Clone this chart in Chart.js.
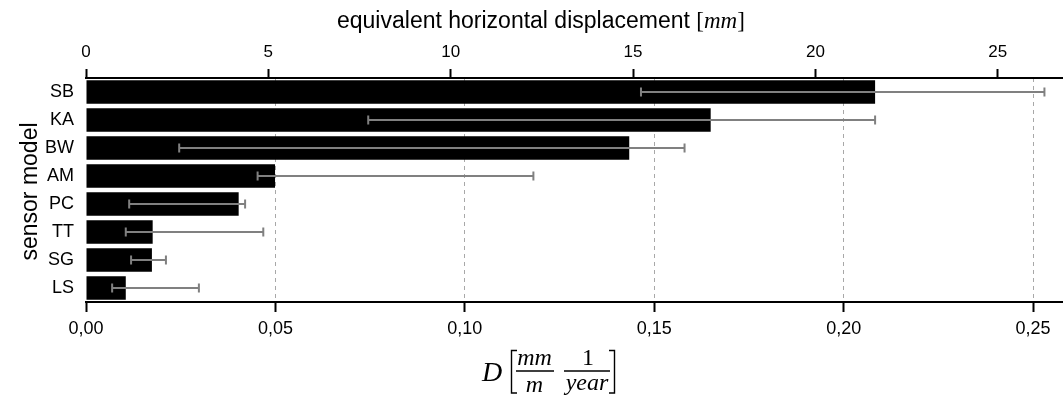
<!DOCTYPE html>
<html>
<head>
<meta charset="utf-8">
<script src="https://cdn.jsdelivr.net/npm/chart.js@4.4.0/dist/chart.umd.min.js"></script>
<style>
    html, body { margin: 0; padding: 0; background: #fff; }
</style>
</head>
<body>
<canvas id="graficoSensores" width="1063" height="395"></canvas>
<script>
// datos
const sensores = ['SB', 'KA', 'BW', 'AM', 'PC', 'TT', 'SG', 'LS'];
const valoresD = [0.2083, 0.1649, 0.1434, 0.0499, 0.0403, 0.0176, 0.0174, 0.0105];
const errorMin = [0.1465, 0.0745, 0.0246, 0.0453, 0.0114, 0.0105, 0.0119, 0.0069];
const errorMax = [0.2530, 0.2083, 0.1580, 0.1181, 0.0420, 0.0468, 0.0211, 0.0298];
const ticksD = [0, 0.05, 0.10, 0.15, 0.20, 0.25];
const etiquetasD = ['0,00', '0,05', '0,10', '0,15', '0,20', '0,25'];
const ticksMm = [0, 5, 10, 15, 20, 25];
const maxD = 0.2579;
const maxMm = 26.79;

const fuente = '"Liberation Sans", Arial, sans-serif';
const fuenteMath = '"Liberation Serif", "DejaVu Serif", serif';

// barras de error grises con remates
const barrasError = {
    id: 'barrasError',
    afterDatasetsDraw(chart) {
        const { ctx, scales: { x, y } } = chart;
        ctx.save();
        ctx.strokeStyle = '#808080';
        ctx.lineWidth = 2;
        sensores.forEach((s, i) => {
            const yy = y.getPixelForValue(i);
            const x1 = x.getPixelForValue(errorMin[i]);
            const x2 = x.getPixelForValue(errorMax[i]);
            ctx.beginPath();
            ctx.moveTo(x1, yy); ctx.lineTo(x2, yy);
            ctx.moveTo(x1, yy - 4.5); ctx.lineTo(x1, yy + 4.5);
            ctx.moveTo(x2, yy - 4.5); ctx.lineTo(x2, yy + 4.5);
            ctx.stroke();
        });
        ctx.restore();
    }
};

// titulos de los ejes (con notacion matematica)
const titulos = {
    id: 'titulos',
    afterDraw(chart) {
        const ctx = chart.ctx;
        ctx.save();
        ctx.fillStyle = '#000';
        ctx.textBaseline = 'alphabetic';

        // titulo superior
        ctx.textAlign = 'left';
        ctx.font = '23px ' + fuente;
        const t1 = 'equivalent horizontal displacement ';
        let xx = 337;
        ctx.fillText(t1, xx, 28);
        xx += ctx.measureText(t1).width;
        ctx.font = '23px ' + fuenteMath;
        ctx.fillText('[', xx, 28);
        xx += ctx.measureText('[').width;
        ctx.font = 'italic 23px ' + fuenteMath;
        ctx.fillText('mm', xx, 28);
        xx += ctx.measureText('mm').width;
        ctx.font = '23px ' + fuenteMath;
        ctx.fillText(']', xx, 28);

        // titulo eje y
        ctx.save();
        ctx.translate(37, 191.5);
        ctx.rotate(-Math.PI / 2);
        ctx.textAlign = 'center';
        ctx.font = '23px ' + fuente;
        ctx.fillText('sensor model', 0, 0);
        ctx.restore();

        // titulo inferior: D [mm/m 1/year]
        ctx.textAlign = 'left';
        ctx.font = 'italic 28px ' + fuenteMath;
        ctx.fillText('D', 482, 381);
        ctx.textAlign = 'center';
        ctx.font = 'italic 24px ' + fuenteMath;
        ctx.fillText('mm', 534.5, 365);
        ctx.fillText('m', 534.5, 391.5);
        ctx.fillText('year', 587, 390);
        ctx.font = '24px ' + fuenteMath;
        ctx.fillText('1', 588, 365);

        ctx.strokeStyle = '#000';
        ctx.lineWidth = 1.4;
        ctx.beginPath();
        ctx.moveTo(516, 371); ctx.lineTo(554, 371);
        ctx.moveTo(564, 371); ctx.lineTo(610, 371);
        // corchetes
        ctx.moveTo(517, 350.5); ctx.lineTo(511.5, 350.5); ctx.lineTo(511.5, 393); ctx.lineTo(517, 393);
        ctx.moveTo(609, 350.5); ctx.lineTo(614.5, 350.5); ctx.lineTo(614.5, 393); ctx.lineTo(609, 393);
        ctx.stroke();
        ctx.restore();
    }
};

const ctx = document.getElementById('graficoSensores').getContext('2d');
const grafico = new Chart(ctx, {
    type: 'bar',
    data: {
        labels: sensores,
        datasets: [{
            data: valoresD,
            backgroundColor: '#000',
            borderWidth: 0,
            barPercentage: 0.84,
            categoryPercentage: 1.0,
            xAxisID: 'x',
            yAxisID: 'y'
        }]
    },
    options: {
        indexAxis: 'y',
        responsive: false,
        animation: false,
        layout: { padding: 0 },
        plugins: {
            legend: { display: false },
            tooltip: { enabled: false }
        },
        scales: {
            x: {
                type: 'linear',
                position: 'bottom',
                min: 0,
                max: maxD,
                afterFit: s => { s.height = 93; },
                afterBuildTicks: s => { s.ticks = ticksD.map(v => ({ value: v })); },
                ticks: {
                    callback: (v, i) => etiquetasD[i],
                    font: { family: fuente, size: 18 },
                    color: '#000',
                    padding: 6,
                    maxRotation: 0,
                    autoSkip: false
                },
                grid: {
                    color: c => (c.tick && c.tick.value === 0) ? 'rgba(0,0,0,0)' : '#a8a8a8',
                    lineWidth: 1,
                    drawTicks: true,
                    tickLength: 10,
                    tickColor: '#000',
                    tickWidth: 2
                },
                border: { display: true, color: '#000', width: 2, dash: [4, 4] }
            },
            x2: {
                type: 'linear',
                position: 'top',
                min: 0,
                max: maxMm,
                afterFit: s => { s.height = 78; },
                afterBuildTicks: s => { s.ticks = ticksMm.map(v => ({ value: v })); },
                ticks: {
                    font: { family: fuente, size: 17 },
                    color: '#000',
                    padding: 6,
                    maxRotation: 0,
                    autoSkip: false
                },
                grid: {
                    drawOnChartArea: false,
                    drawTicks: true,
                    tickLength: 9,
                    tickColor: '#000',
                    tickWidth: 2
                },
                border: { display: true, color: '#000', width: 2 }
            },
            y: {
                type: 'category',
                offset: true,
                afterFit: s => { s.width = 86; },
                ticks: {
                    font: { family: fuente, size: 18 },
                    color: '#000',
                    padding: 12
                },
                grid: { display: false, drawTicks: false },
                border: { display: false }
            }
        }
    },
    plugins: [barrasError, titulos]
});
</script>
</body>
</html>
